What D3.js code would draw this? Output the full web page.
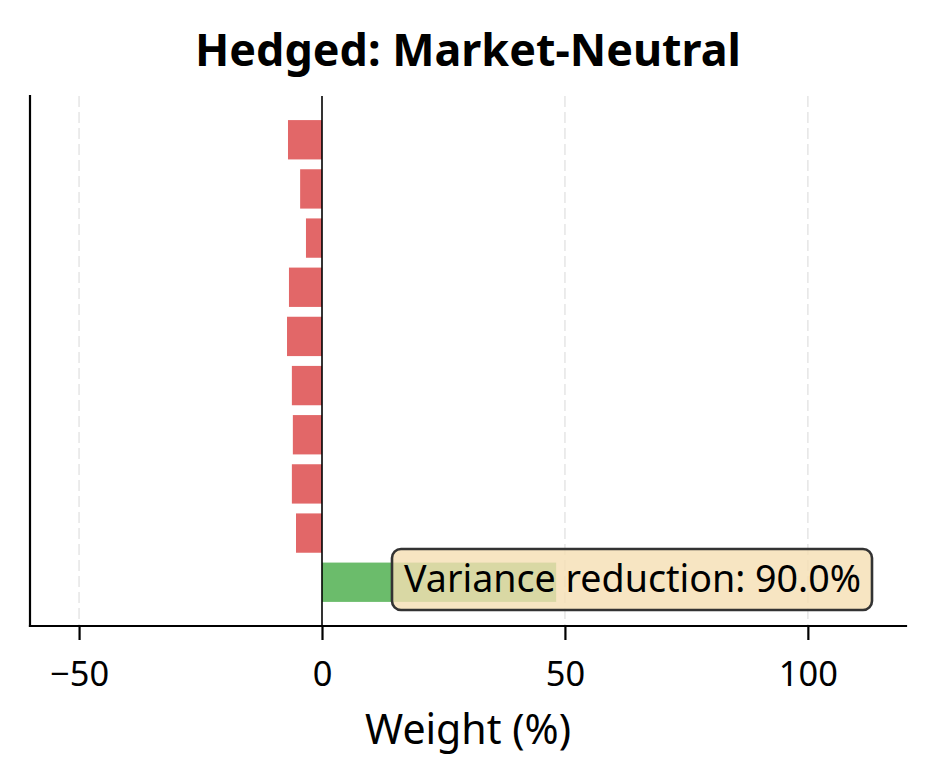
<!DOCTYPE html>
<html>
<head>
<meta charset="utf-8">
<script src="https://cdn.jsdelivr.net/npm/d3@7"></script>
<style>
  html, body { margin: 0; padding: 0; background: #fff; }
  svg { display: block; }
  text { font-family: "Noto Sans", "Open Sans", sans-serif; fill: #000; }
</style>
</head>
<body>
<div id="chart"></div>
<script>
// ---- data (bottom to top order as in the source plot: index 0 at bottom) ----
const categories = ["Hedge", "Asset 9", "Asset 8", "Asset 7", "Asset 6", "Asset 5", "Asset 4", "Asset 3", "Asset 2", "Asset 1"];
const weights = [48.2, -5.35, -6.2, -6.0, -6.2, -7.2, -6.8, -3.3, -4.5, -7.0];
const xTicks = [-50, 0, 50, 100];
const titleText = "Hedged: Market-Neutral";
const xLabel = "Weight (%)";
const annotationText = "Variance reduction: 90.0%";

// ---- layout ----
const W = 934, H = 784;
const plot = { left: 30, right: 906, top: 96, bottom: 626 };

const svg = d3.select("#chart").append("svg").attr("width", W).attr("height", H);

const x = d3.scaleLinear().domain([-60.1, 120.2]).range([plot.left, plot.right]);
const n = categories.length;
const barH = 0.8;
const pad = (n - 1 + barH) * 0.05;
const y = d3.scaleLinear().domain([-barH / 2 - pad, n - 1 + barH / 2 + pad]).range([plot.bottom, plot.top]);

// fit text to a target width
function fit(sel, target) {
  const node = sel.node();
  const fs = parseFloat(sel.attr("font-size"));
  const w = node.getComputedTextLength();
  sel.attr("font-size", (fs * target / w).toFixed(2));
  return sel;
}

// grid (dashed, light)
svg.append("g").selectAll("line").data(xTicks.filter(d => d !== 0)).join("line")
  .attr("x1", d => x(d)).attr("x2", d => x(d))
  .attr("y1", plot.top).attr("y2", plot.bottom)
  .attr("stroke", "#b0b0b0").attr("stroke-opacity", 0.3)
  .attr("stroke-width", 1.6).attr("stroke-dasharray", "11,5");

// bars
svg.append("g").selectAll("rect").data(weights).join("rect")
  .attr("x", d => x(Math.min(0, d)))
  .attr("width", d => Math.abs(x(d) - x(0)))
  .attr("y", (d, i) => y(i + barH / 2))
  .attr("height", (d, i) => y(i - barH / 2) - y(i + barH / 2))
  .attr("fill", d => d >= 0 ? "#2ca02c" : "#d62728")
  .attr("fill-opacity", 0.7);

// zero line
svg.append("line")
  .attr("x1", x(0)).attr("x2", x(0)).attr("y1", plot.top).attr("y2", plot.bottom)
  .attr("stroke", "#000").attr("stroke-width", 1.6);

// x axis
const xAxis = d3.axisBottom(x).tickValues(xTicks).tickSize(14).tickPadding(8)
  .tickFormat(d => d < 0 ? "\u2212" + Math.abs(d) : String(d));
const gx = svg.append("g").attr("transform", `translate(0,${plot.bottom})`).call(xAxis);
gx.select(".domain").remove();
gx.selectAll(".tick line").attr("stroke", "#000").attr("stroke-width", 2.2);
gx.selectAll(".tick text").attr("font-size", 30).attr("dy", null).attr("y", 60)
  .style("font-family", '"Noto Sans", sans-serif');
// fit tick font to "100" width ~59px
(function () {
  const t = gx.selectAll(".tick text").filter(d => d === 100);
  const w = t.node().getComputedTextLength();
  const fs = 30 * 59 / w;
  gx.selectAll(".tick text").attr("font-size", fs.toFixed(2));
})();

// spines
svg.append("line").attr("x1", plot.left).attr("x2", plot.right).attr("y1", plot.bottom).attr("y2", plot.bottom)
  .attr("stroke", "#000").attr("stroke-width", 2.2).attr("stroke-linecap", "square");
svg.append("line").attr("x1", plot.left).attr("x2", plot.left).attr("y1", plot.top).attr("y2", plot.bottom)
  .attr("stroke", "#000").attr("stroke-width", 2.2).attr("stroke-linecap", "square");

// title
const cx = (plot.left + plot.right) / 2;
fit(svg.append("text").text(titleText).attr("x", cx).attr("y", 66)
  .attr("text-anchor", "middle").attr("font-weight", "bold").attr("font-size", 30), 546);

// x label
fit(svg.append("text").text(xLabel).attr("x", cx).attr("y", 744)
  .attr("text-anchor", "middle").attr("font-size", 30), 206);

// annotation box
const ann = svg.append("g");
const box = ann.append("rect");
const at = ann.append("text").text(annotationText).attr("x", 404).attr("y", 592).attr("font-size", 30);
fit(at, 457);
box.attr("x", 392).attr("y", 549).attr("width", 480).attr("height", 61)
  .attr("rx", 9).attr("ry", 9)
  .attr("fill", "#f5deb3").attr("fill-opacity", 0.8)
  .attr("stroke", "#333").attr("stroke-width", 2.6);
</script>
</body>
</html>
